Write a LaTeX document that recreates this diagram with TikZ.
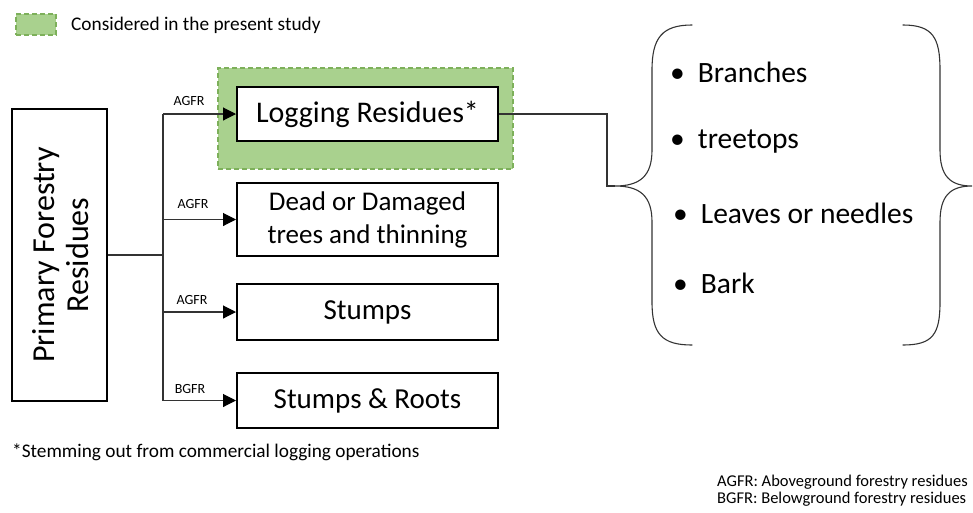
\documentclass[tikz,border=0pt]{standalone}
\usepackage{fontspec}
\setmainfont{Carlito}
\usetikzlibrary{arrows.meta}
\definecolor{lgreen}{HTML}{A9D18E}
\definecolor{dgreen}{HTML}{7DB05A}
\definecolor{lnc}{HTML}{333333}
\begin{document}
\begin{tikzpicture}[x=1pt,y=-1pt,
  box/.style={draw=black,line width=2pt,fill=white,inner sep=0pt,minimum width=261pt,align=center,font=\fontsize{29}{35}\selectfont},
  conn/.style={draw=lnc,line width=1.1pt},
  arr/.style={conn,-{Triangle[length=13pt,width=13pt,color=black]}},
  lab/.style={font=\fontsize{14}{16}\selectfont,inner sep=0pt},
  studybox/.style={fill=lgreen,draw=dgreen,dash pattern=on 5pt off 3pt,line width=1.3pt,inner sep=0pt},
  item/.style={anchor=west,inner sep=0pt,font=\fontsize{29.5}{34}\selectfont},
  brace/.style={draw=lnc,line width=1.1pt,line cap=round},
  plain/.style={inner sep=0pt,font=\fontsize{19.3}{23}\selectfont}]
\useasboundingbox (0,0) rectangle (973,512);
% legend
\node[studybox,minimum width=40pt,minimum height=21pt] (leg) at (36,24.5) {};
\node[plain,anchor=west] (legt) at (71,25) {Considered in the present study};
% study highlight
\node[studybox,minimum width=295pt,minimum height=101pt] (green) at (365.5,118.5) {};
% boxes
\node[box,minimum height=54pt,font=\fontsize{30}{35}\selectfont] (log) at (367.5,114) {Logging Residues*};
\node[box,minimum height=73pt,font=\fontsize{27}{34}\selectfont] (dead) at (367.5,219.5) {Dead or Damaged\\[-1pt]trees and thinning};
\node[box,minimum height=56pt] (stu) at (367.5,312) {Stumps};
\node[box,minimum height=55pt] (sr) at (367.5,400.5) {Stumps \& Roots};
\node[box,minimum width=95pt,minimum height=292pt] (prim) at (59.5,255) {};
\node[rotate=90,align=center,inner sep=0pt,font=\fontsize{32}{34}\selectfont] (primt) at (61,255) {Primary Forestry\\Residues};
% connectors
\coordinate (J) at (163,255);
\draw[conn] (prim.east) -- (J);
\draw[conn] (J |- log.west) -- (J |- sr.west);
\draw[arr] (J |- log.west) -- (log.west);
\draw[arr] (J |- dead.west) -- (dead.west);
\draw[arr] (J |- stu.west) -- (stu.west);
\draw[arr] (J |- sr.west) -- (sr.west);
\node[lab] (l1) at (189,101) {AGFR};
\node[lab] (l2) at (193,204) {AGFR};
\node[lab] (l3) at (192,300) {AGFR};
\node[lab] (l4) at (190,389) {BGFR};
% brace connector
\coordinate (btip) at (615,186);
\coordinate (bend) at (607,186);
\draw[conn] (log.east) -| (bend) -- (btip);
% left brace
\draw[brace] (692,25) .. controls (662,25) and (652,38) .. (652,70) -- (652,150)
  .. controls (652,176) and (640,186) .. (btip)
  .. controls (640,186) and (652,196) .. (652,222) -- (652,302)
  .. controls (652,334) and (662,345) .. (692,345);
% right brace
\draw[brace] (903,25) .. controls (933,25) and (940,38) .. (940,70) -- (940,150)
  .. controls (940,176) and (950,186) .. (972,186)
  .. controls (950,186) and (940,196) .. (940,222) -- (940,302)
  .. controls (940,334) and (933,345) .. (903,345);
% items
\node[item] (i1) at (670,72) {•\hspace{13pt}Branches};
\node[item] (i2) at (670,142) {•\hspace{13pt}treetops};
\node[item] (i3) at (673,213) {•\hspace{13pt}Leaves or needles};
\node[item] (i4) at (673,283) {•\hspace{13pt}Bark};
% notes
\node[plain,anchor=west] (foot) at (12,452) {*Stemming out from commercial logging operations};
\node[anchor=north west,align=left,inner sep=0pt,font=\fontsize{16.5}{17}\selectfont] (abbr) at (717,475) {AGFR: Aboveground forestry residues\\BGFR: Belowground forestry residues};
\end{tikzpicture}
\end{document}
